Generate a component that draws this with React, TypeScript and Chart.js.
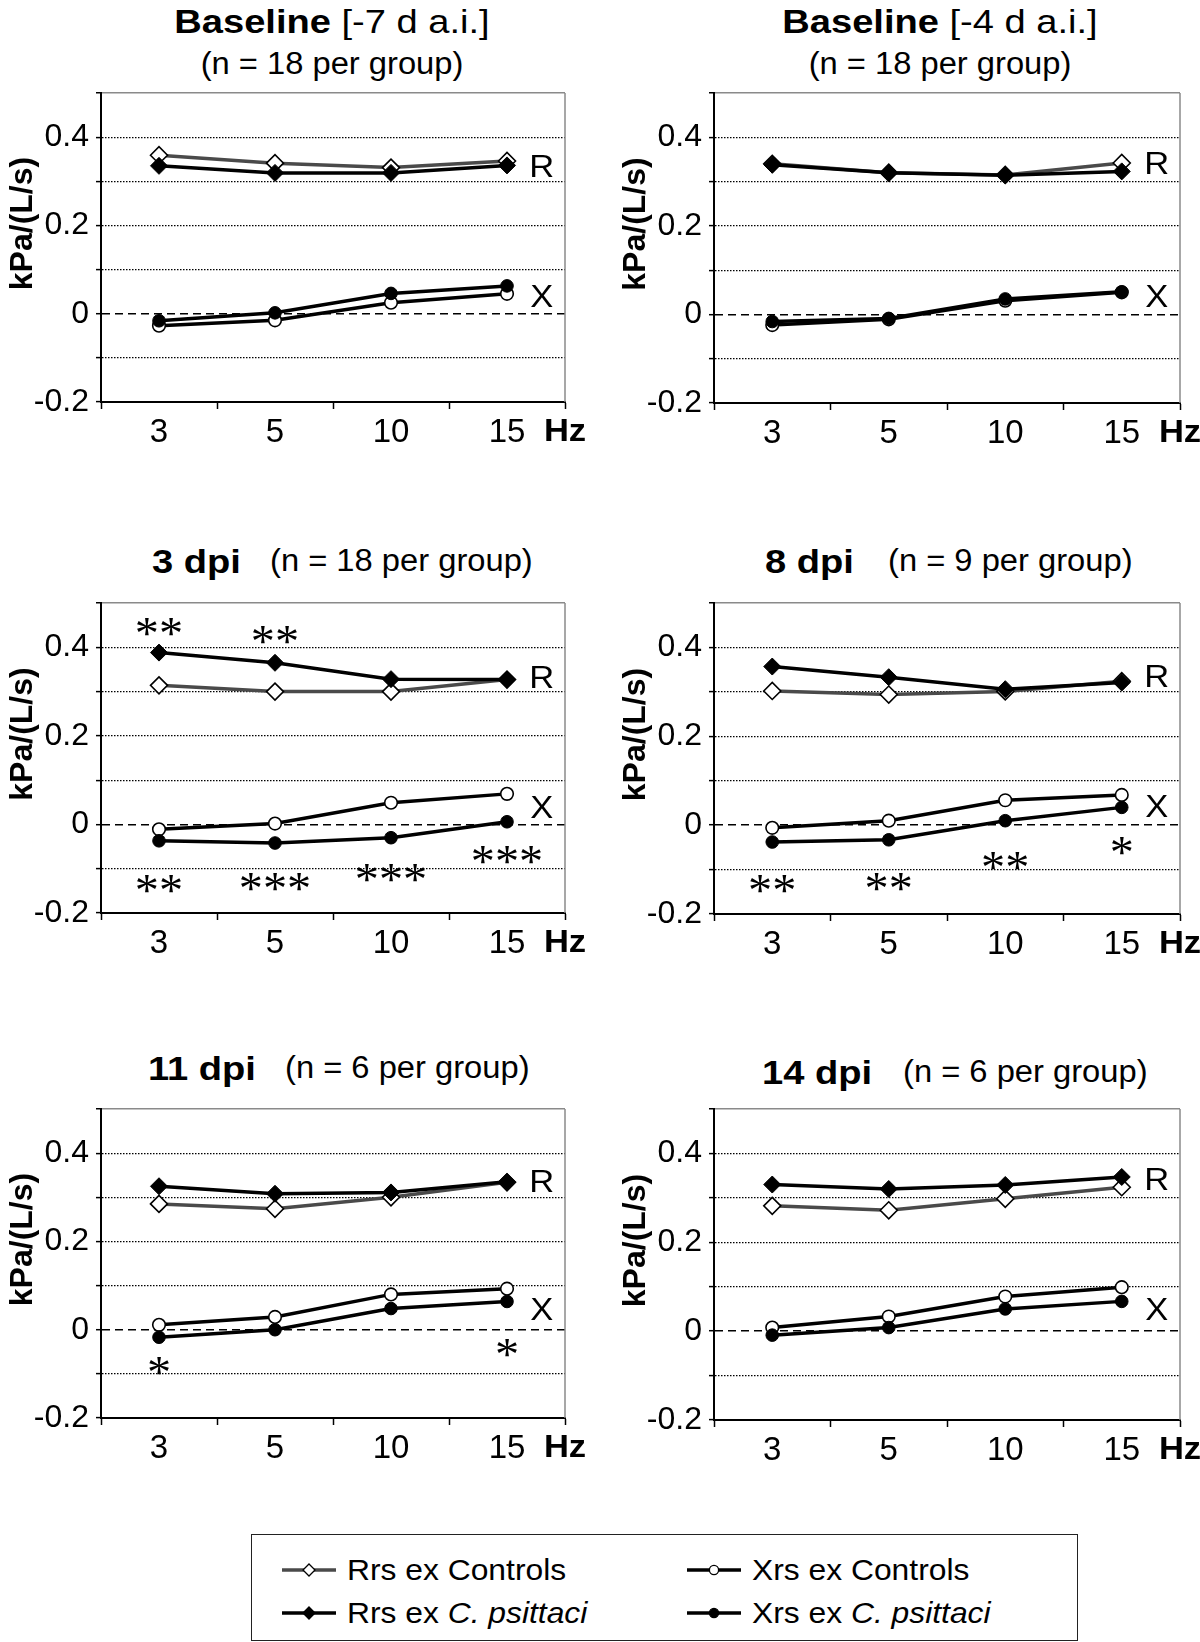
import React, { useEffect, useRef } from 'react';
import { Chart, registerables } from 'chart.js';

Chart.register(...registerables);

const SANS = '"Liberation Sans", Arial, Helvetica, sans-serif';
const SERIF = '"Liberation Serif", "Times New Roman", serif';
const STRETCH = 1.08;

// ---------------- data ----------------
const frequencies = ['3', '5', '10', '15'];
const yTickLabels = ['-0.2', '0', '0.2', '0.4'];
const panelNames = ['Baseline', 'Baseline', '3 dpi', '8 dpi', '11 dpi', '14 dpi'];
const panelNotes = ['[-7 d a.i.]', '[-4 d a.i.]', '', '', '', ''];
const groupSizes = [18, 18, 18, 9, 6, 6];

// one row per panel: values at 3, 5, 10, 15 Hz (kPa/(L/s))
const rrsControls = [
  [0.359, 0.341, 0.331, 0.346],
  [0.340, 0.320, 0.315, 0.342],
  [0.314, 0.300, 0.300, 0.327],
  [0.302, 0.294, 0.301, 0.324],
  [0.285, 0.274, 0.300, 0.334],
  [0.282, 0.272, 0.298, 0.324],
];
const rrsCpsittaci = [
  [0.335, 0.319, 0.319, 0.336],
  [0.338, 0.320, 0.314, 0.323],
  [0.388, 0.365, 0.328, 0.327],
  [0.357, 0.333, 0.306, 0.321],
  [0.325, 0.308, 0.311, 0.335],
  [0.330, 0.320, 0.329, 0.347],
];
const xrsControls = [
  [-0.027, -0.015, 0.025, 0.045],
  [-0.024, -0.011, 0.031, 0.050],
  [-0.011, 0.002, 0.049, 0.069],
  [-0.006, 0.010, 0.056, 0.068],
  [0.011, 0.029, 0.080, 0.093],
  [0.008, 0.033, 0.078, 0.099],
];
const xrsCpsittaci = [
  [-0.016, 0.002, 0.046, 0.063],
  [-0.016, -0.009, 0.035, 0.051],
  [-0.037, -0.042, -0.030, 0.006],
  [-0.038, -0.033, 0.010, 0.040],
  [-0.017, 0.000, 0.048, 0.064],
  [-0.009, 0.008, 0.050, 0.067],
];

// curve labels "R" and "X" (value where each label sits, per panel)
const rLabelValue = [0.335, 0.342, 0.332, 0.336, 0.336, 0.342];
const xLabelValue = [0.039, 0.041, 0.039, 0.044, 0.048, 0.050];
const curveLabelIndex = 3.3;

// significance marks: [category index, value, text]
const significance: [number, number, string][][] = [
  [],
  [],
  [[0, 0.445, '**'], [1, 0.428, '**'], [0, -0.134, '**'], [1, -0.130, '***'], [2, -0.110, '***'], [3, -0.070, '***']],
  [[0, -0.133, '**'], [1, -0.129, '**'], [2, -0.080, '**'], [3, -0.047, '*']],
  [[0, -0.083, '*'], [3, -0.041, '*']],
  [],
];

// ---------------- layout ----------------
const layouts = [
  { left: 0, top: 0, height: 460, plotLeft: 101, plotRight: 565, plotTop: 93, plotBottom: 402 },
  { left: 600, top: 0, height: 460, plotLeft: 114, plotRight: 580, plotTop: 93, plotBottom: 403 },
  { left: 0, top: 500, height: 470, plotLeft: 101, plotRight: 565, plotTop: 103, plotBottom: 413 },
  { left: 600, top: 500, height: 470, plotLeft: 114, plotRight: 580, plotTop: 103, plotBottom: 414 },
  { left: 0, top: 1000, height: 470, plotLeft: 101, plotRight: 565, plotTop: 109, plotBottom: 418 },
  { left: 600, top: 1000, height: 470, plotLeft: 114, plotRight: 580, plotTop: 109, plotBottom: 420 },
];

function drawCentered(ctx: CanvasRenderingContext2D, text: string, x: number, y: number, sx = STRETCH) {
  const m = ctx.measureText(text);
  const off = (m.actualBoundingBoxAscent - m.actualBoundingBoxDescent) / 2;
  ctx.save();
  ctx.translate(x, y + off);
  ctx.scale(sx, 1);
  ctx.textAlign = 'center';
  ctx.textBaseline = 'alphabetic';
  ctx.fillText(text, 0, 0);
  ctx.restore();
}

function makeOverlay(idx: number) {
  return {
    id: 'overlay',
    afterDraw(chart: any) {
      const { ctx, chartArea: a, scales } = chart;
      const xs = scales.x;
      const ys = scales.y;
      ctx.save();
      // right plot border
      ctx.strokeStyle = '#8a8a8a';
      ctx.lineWidth = 1.5;
      ctx.beginPath();
      ctx.moveTo(a.right, a.top);
      ctx.lineTo(a.right, a.bottom);
      ctx.stroke();

      ctx.fillStyle = '#000';
      // curve labels
      ctx.font = `32px ${SANS}`;
      drawCentered(ctx, 'R', xs.getPixelForValue(curveLabelIndex), ys.getPixelForValue(rLabelValue[idx]));
      drawCentered(ctx, 'X', xs.getPixelForValue(curveLabelIndex), ys.getPixelForValue(xLabelValue[idx]));

      // significance asterisks
      ctx.font = `46px ${SERIF}`;
      for (const [i, v, t] of significance[idx]) {
        drawCentered(ctx, t, xs.getPixelForValue(i), ys.getPixelForValue(v), 1.05);
      }

      // unit at the end of the x axis
      ctx.font = `bold 32px ${SANS}`;
      drawCentered(ctx, 'Hz', a.right, a.bottom + 28);

      // y axis title
      ctx.translate(a.left - 77, (a.top + a.bottom) / 2 - 24);
      ctx.rotate(-Math.PI / 2);
      ctx.font = `bold 32px ${SANS}`;
      drawCentered(ctx, 'kPa/(L/s)', 0, 0, 1);
      ctx.restore();
    },
  };
}

const tenths = (v: number) => Math.round(v * 10);

function Panel({ idx }: { idx: number }) {
  const ref = useRef<HTMLCanvasElement>(null);
  const L = layouts[idx];
  useEffect(() => {
    const canvas = ref.current!;
    const chart = new Chart(canvas, {
      type: 'line',
      data: {
        labels: frequencies,
        datasets: [
          {
            label: 'Rrs ex C. psittaci',
            data: rrsCpsittaci[idx],
            borderColor: '#000',
            borderWidth: 3.5,
            pointStyle: 'rectRot',
            pointRadius: 8.5,
            pointBackgroundColor: '#000',
            pointBorderColor: '#000',
            pointBorderWidth: 1,
          },
          {
            label: 'Xrs ex C. psittaci',
            data: xrsCpsittaci[idx],
            borderColor: '#000',
            borderWidth: 3.5,
            pointStyle: 'circle',
            pointRadius: 6.3,
            pointBackgroundColor: '#000',
            pointBorderColor: '#000',
            pointBorderWidth: 1,
          },
          {
            label: 'Rrs ex Controls',
            data: rrsControls[idx],
            borderColor: '#4a4a4a',
            borderWidth: 3.5,
            pointStyle: 'rectRot',
            pointRadius: 8.5,
            pointBackgroundColor: '#fff',
            pointBorderColor: '#000',
            pointBorderWidth: 1.6,
          },
          {
            label: 'Xrs ex Controls',
            data: xrsControls[idx],
            borderColor: '#000',
            borderWidth: 3.5,
            pointStyle: 'circle',
            pointRadius: 6.3,
            pointBackgroundColor: '#fff',
            pointBorderColor: '#000',
            pointBorderWidth: 1.6,
          },
        ],
      },
      options: {
        responsive: false,
        animation: false,
        devicePixelRatio: 1,
        events: [],
        layout: { padding: { top: L.plotTop, right: 600 - L.plotRight, left: 0, bottom: 0 } },
        elements: { line: { tension: 0 } },
        plugins: { legend: { display: false }, tooltip: { enabled: false }, title: { display: false } },
        scales: {
          x: {
            type: 'category',
            offset: true,
            afterFit: (s: any) => { s.height = L.height - L.plotBottom; },
            ticks: {
              color: '#000',
              font: { family: SANS, size: 33 },
              padding: 4,
              maxRotation: 0,
              autoSkip: false,
            },
            grid: {
              display: true,
              offset: true,
              drawOnChartArea: false,
              drawTicks: true,
              tickLength: 7,
              tickWidth: 1.5,
              tickColor: '#000',
              color: '#000',
            },
            border: { display: true, color: '#000', width: 2 },
          },
          y: {
            type: 'linear',
            min: -0.2,
            max: 0.5,
            afterFit: (s: any) => { s.width = L.plotLeft; },
            ticks: {
              stepSize: 0.1,
              autoSkip: false,
              padding: 7,
              color: '#000',
              font: { family: SANS, size: 32 },
              callback: (v: any) => {
                const r = tenths(Number(v));
                const s = r === 0 ? '0' : String(r / 10);
                return yTickLabels.includes(s) ? s : '';
              },
            },
            grid: {
              drawTicks: true,
              tickLength: 5,
              tickWidth: 1.5,
              tickColor: '#000',
              color: (c: any) => {
                if (!c.tick) return '#000';
                const r = tenths(c.tick.value);
                if (r === -2) return 'rgba(0,0,0,0)';
                if (r === 5) return '#8a8a8a';
                return '#000';
              },
              lineWidth: (c: any) => {
                if (!c.tick) return 1;
                const r = tenths(c.tick.value);
                if (r === 5) return 1.5;
                if (r === 0) return 1.4;
                return 1.2;
              },
            },
            border: {
              display: true,
              color: '#000',
              width: 2,
              dash: (c: any) => {
                if (!c || !c.tick) return [];
                const r = tenths(c.tick.value);
                if (r === 5) return [];
                if (r === 0) return [8, 5];
                return [1.5, 1.5];
              },
            },
          },
        },
      },
      plugins: [makeOverlay(idx)],
    } as any);
    return () => chart.destroy();
  }, [idx]);
  return (
    <canvas
      ref={ref}
      width={600}
      height={L.height}
      style={{ position: 'absolute', left: L.left, top: L.top, width: 600, height: L.height }}
    />
  );
}

const baseText: React.CSSProperties = {
  position: 'absolute',
  fontFamily: SANS,
  color: '#000',
  whiteSpace: 'nowrap',
  lineHeight: '36px',
  height: 36,
};

function Titles() {
  const out: React.ReactNode[] = [];
  // baseline panels: two centred lines
  const centers = [332, 940];
  for (let i = 0; i < 2; i++) {
    out.push(
      <div key={`t${i}a`} style={{ ...baseText, left: centers[i] - 300, width: 600, top: 3, textAlign: 'center', fontSize: 34, transform: 'scaleX(1.12)', transformOrigin: 'center' }}>
        <b>{panelNames[i]}</b> {panelNotes[i]}
      </div>,
      <div key={`t${i}b`} style={{ ...baseText, left: centers[i] - 300, width: 600, top: 46, textAlign: 'center', fontSize: 31, transform: 'scaleX(1.055)', transformOrigin: 'center' }}>
        (n = {groupSizes[i]} per group)
      </div>
    );
  }
  const rowTitles = [
    { i: 2, top: 543, bold: 152, reg: 270 },
    { i: 3, top: 543, bold: 765, reg: 888 },
    { i: 4, top: 1050, bold: 148, reg: 285 },
    { i: 5, top: 1054, bold: 762, reg: 903 },
  ];
  for (const r of rowTitles) {
    out.push(
      <div key={`t${r.i}a`} style={{ ...baseText, left: r.bold, top: r.top, fontSize: 34, fontWeight: 700, transform: 'scaleX(1.12)', transformOrigin: 'left center' }}>
        {panelNames[r.i]}
      </div>,
      <div key={`t${r.i}b`} style={{ ...baseText, left: r.reg, top: r.top, fontSize: 31, transform: 'scaleX(1.055)', transformOrigin: 'left center' }}>
        (n = {groupSizes[r.i]} per group)
      </div>
    );
  }
  return <>{out}</>;
}

function LegendMark({ shape, filled, gray }: { shape: 'diamond' | 'circle'; filled: boolean; gray: boolean }) {
  return (
    <svg width={54} height={20} style={{ position: 'absolute', left: 0, top: 0 }}>
      <line x1={0} y1={10} x2={54} y2={10} stroke={gray ? '#4a4a4a' : '#000'} strokeWidth={3.5} />
      {shape === 'diamond' ? (
        <polygon points="27,4 33,10 27,16 21,10" fill={filled ? '#000' : '#fff'} stroke="#000" strokeWidth={1.3} />
      ) : (
        <circle cx={27} cy={10} r={4.6} fill={filled ? '#000' : '#fff'} stroke="#000" strokeWidth={1.3} />
      )}
    </svg>
  );
}

function Legend() {
  const items = [
    { x: 30, y: 35, shape: 'diamond' as const, filled: false, gray: true, label: <>Rrs ex Controls</> },
    { x: 30, y: 78, shape: 'diamond' as const, filled: true, gray: false, label: <>Rrs ex <i>C. psittaci</i></> },
    { x: 435, y: 35, shape: 'circle' as const, filled: false, gray: false, label: <>Xrs ex Controls</> },
    { x: 435, y: 78, shape: 'circle' as const, filled: true, gray: false, label: <>Xrs ex <i>C. psittaci</i></> },
  ];
  return (
    <div style={{ position: 'absolute', left: 251, top: 1534, width: 827, height: 107, border: '1.5px solid #222', boxSizing: 'border-box' }}>
      {items.map((it, k) => (
        <div key={k} style={{ position: 'absolute', left: it.x, top: it.y - 10, width: 380, height: 20 }}>
          <LegendMark shape={it.shape} filled={it.filled} gray={it.gray} />
          <div style={{ ...baseText, left: 65, top: -8, fontSize: 30, transform: 'scaleX(1.06)', transformOrigin: 'left center' }}>
            {it.label}
          </div>
        </div>
      ))}
    </div>
  );
}

export default function App() {
  return (
    <div style={{ position: 'absolute', left: 0, top: 0, width: 1200, height: 1642, background: '#fff', overflow: 'hidden' }}>
      <Titles />
      {layouts.map((_, i) => (
        <Panel key={i} idx={i} />
      ))}
      <Legend />
    </div>
  );
}
